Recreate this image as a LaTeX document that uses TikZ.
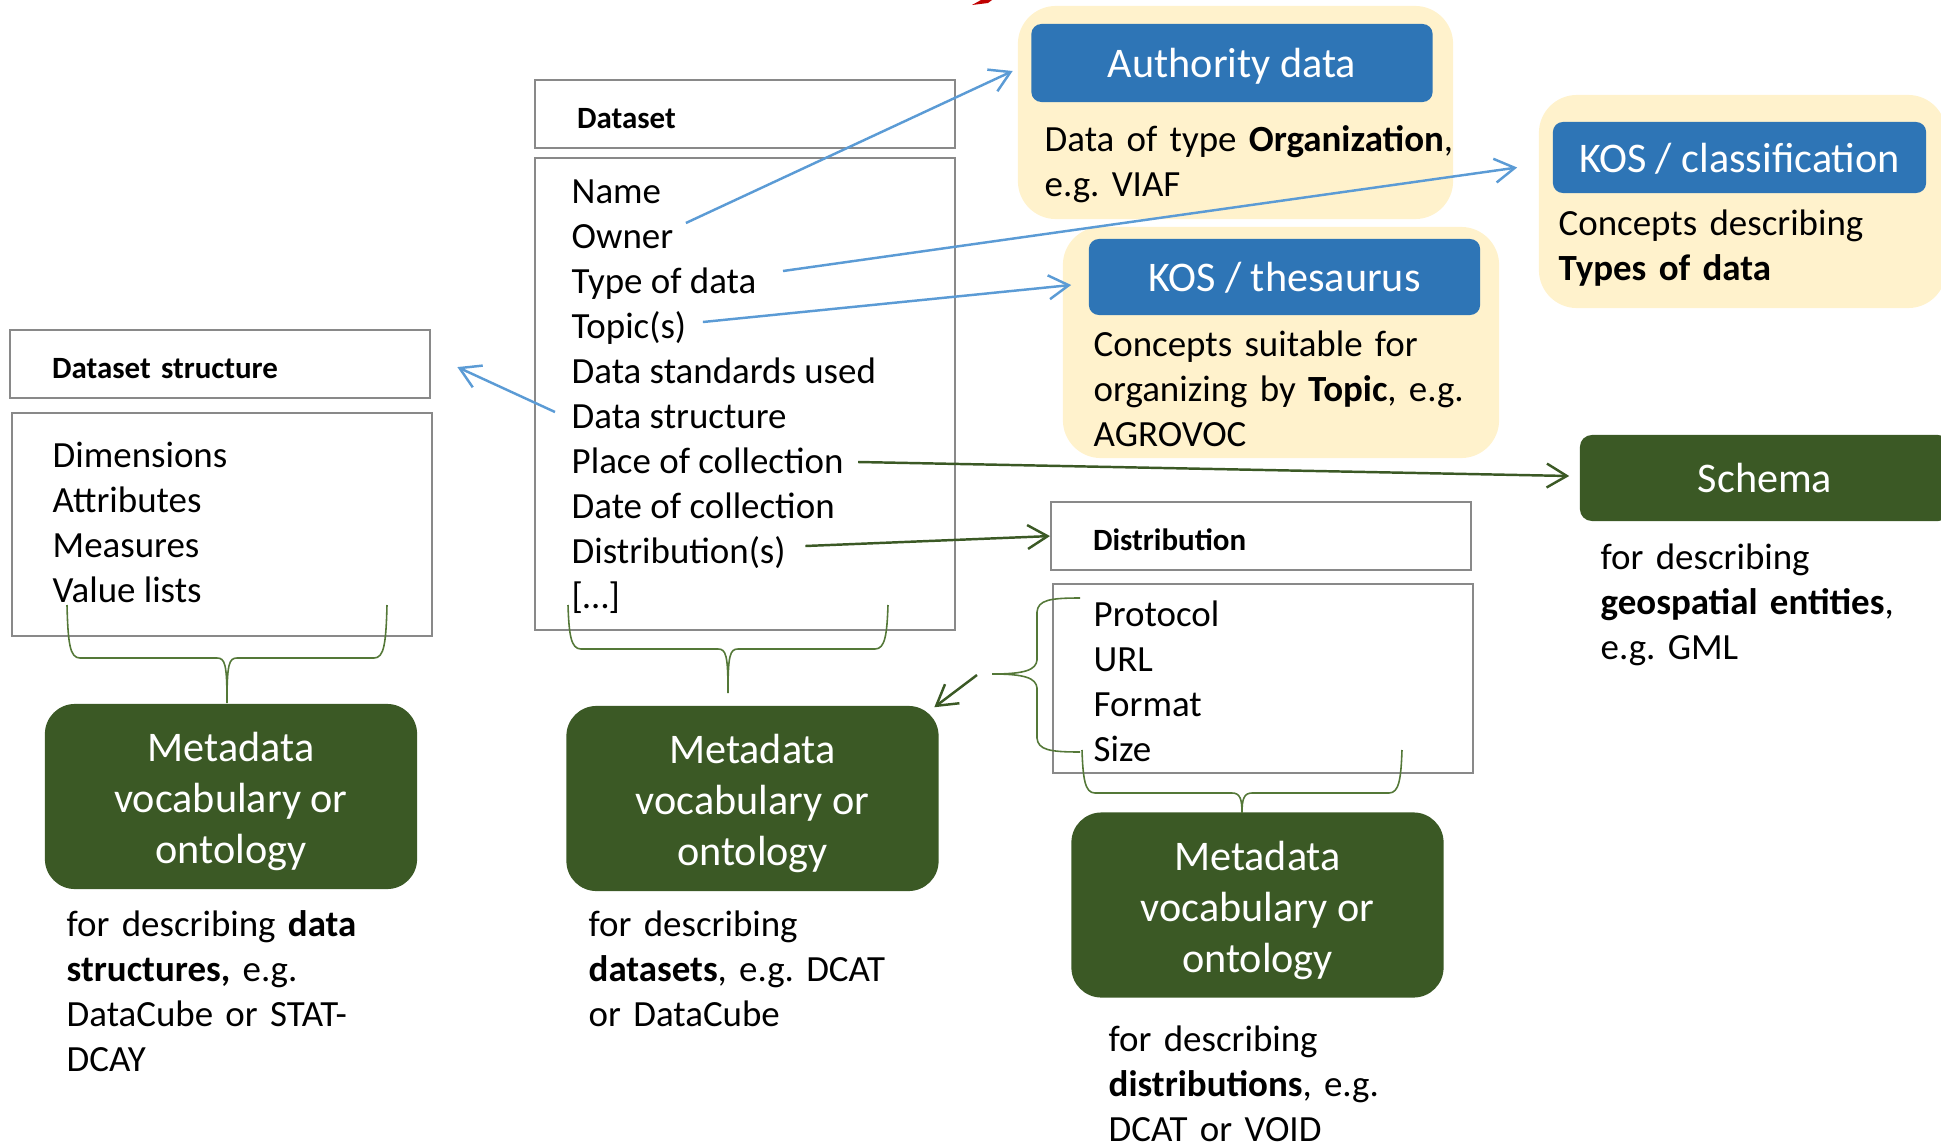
\documentclass[tikz,border=0pt]{standalone}
\usepackage{fontspec}
\setmainfont{Carlito}
\frenchspacing
\usetikzlibrary{positioning,arrows.meta,calc}
\definecolor{boxgray}{RGB}{137,137,137}
\definecolor{kosblue}{RGB}{46,117,182}
\definecolor{haloyellow}{RGB}{255,242,204}
\definecolor{vocabgreen}{RGB}{59,89,37}
\definecolor{bracegreen}{RGB}{84,120,56}
\definecolor{arrblue}{RGB}{91,155,213}
\definecolor{markred}{RGB}{192,0,0}
\newcommand{\itemfont}{\fontsize{10.5}{12.8}\selectfont}
\newcommand{\hdrfont}{\fontsize{8.8}{10.5}\selectfont\bfseries}
\newcommand{\bigfont}{\fontsize{12}{14.5}\selectfont}
\newcommand{\vocabtext}{\rule{0pt}{11.2pt}Metadata\\vocabulary or\\ontology}
% curly brace opening downwards: left x, right x, tip y, bar y, cusp y
\newcommand{\downbrace}[5]{%
  \draw[brc] (#1,#3) .. controls (#1+1,#4-14) and (#1+3,#4) .. (#1+13,#4)
    -- ({(#1+#2)/2-10},#4) .. controls ({(#1+#2)/2-2},#4) and ({(#1+#2)/2},#4+6) .. ({(#1+#2)/2},#5)
    .. controls ({(#1+#2)/2},#4+6) and ({(#1+#2)/2+2},#4) .. ({(#1+#2)/2+10},#4)
    -- (#2-13,#4) .. controls (#2-3,#4) and (#2-1,#4-14) .. (#2,#3);}
\tikzset{
  hdr/.style   = {rectangle, draw=boxgray, line width=0.6pt, anchor=north west,
                  minimum width=4.2cm, minimum height=0.68cm,
                  text width=3.36cm, inner xsep=0.42cm, align=left, font=\hdrfont,
                  text height=8pt, text depth=0pt},
  body/.style  = {rectangle, draw=boxgray, line width=0.6pt, anchor=north west,
                  minimum width=4.2cm, inner sep=0pt},
  item/.style  = {anchor=base west, inner sep=0pt, font=\itemfont},
  note/.style  = {item, text width=4.2cm, align=left},
  halo/.style  = {rectangle, rounded corners=0.38cm, fill=haloyellow, inner sep=0pt},
  kos/.style   = {rectangle, rounded corners=0.1cm, fill=kosblue, text=white,
                  font=\bigfont, inner sep=0pt, text height=9.5pt, text depth=1.2pt},
  vocab/.style = {rectangle, rounded corners=0.3cm, fill=vocabgreen, text=white,
                  font=\bigfont, align=center, minimum width=3.72cm, minimum height=1.85cm},
  barr/.style  = {-{Straight Barb[length=5.7pt,width=6.8pt]}, draw=arrblue, line width=0.7pt},
  garr/.style  = {-{Straight Barb[length=5.7pt,width=6.8pt]}, draw=vocabgreen, line width=0.7pt},
  brc/.style   = {draw=bracegreen, line width=0.45pt}
}
\begin{document}
\begin{tikzpicture}[x=0.01cm,y=-0.01cm]
  \useasboundingbox (0,0) rectangle (1941,1142);
  \fill[markred] (972,5) -- (981,0) -- (992,0) -- (988,3) -- cycle;

  % dataset class
  \node[hdr] (dsethdr) at (534,79) {Dataset};
  \node[body, minimum height=4.72cm] (dsetbody) at (534,157) {};
  \node[item] (name) at (571,203) {Name};
  \node[item] (owner) at (571,248) {Owner};
  \node[item] (type) at (571,293) {Type of data};
  \node[item] (topic) at (571,338) {Topic(s)};
  \node[item] (std) at (571,383) {Data standards used};
  \node[item] (struct) at (571,428) {Data structure};
  \node[item] (place) at (571,473) {Place of collection};
  \node[item] (date) at (571,518) {Date of collection};
  \node[item] (distr) at (571,563) {Distribution(s)};
  \node[item] (more) at (571,608) {[…]};

  % dataset structure class
  \node[hdr] (strhdr) at (9,329) {Dataset structure};
  \node[body, minimum height=2.23cm] (strbody) at (11,412) {};
  \node[item] (dims) at (52,467) {Dimensions};
  \node[item] (attrs) at (52,512) {Attributes};
  \node[item] (meas) at (52,557) {Measures};
  \node[item] (vals) at (52,602) {Value lists};

  % distribution class
  \node[hdr] (disthdr) at (1050,501) {Distribution};
  \node[body, minimum height=1.89cm] (distbody) at (1052,583) {};
  \node[item] (proto) at (1093,626) {Protocol};
  \node[item] (url) at (1093,671) {URL};
  \node[item] (fmt) at (1093,716) {Format};
  \node[item] (size) at (1093,761) {Size};

  % vocabularies
  \node[halo, minimum width=4.35cm, minimum height=2.13cm] (authbg) at (1235.5,112.5) {};
  \node[kos, minimum width=4.01cm, minimum height=0.78cm] (auth) at (1232,63) {Authority data};
  \node[note] (authtxt) at (1044,151) {Data of type \textbf{Organization},\\e.g. VIAF};

  \node[halo, minimum width=4.07cm, minimum height=2.13cm] (clsbg) at (1742.5,201.5) {};
  \node[kos, minimum width=3.73cm, minimum height=0.71cm] (cls) at (1739.5,157.5) {KOS / classification};
  \node[note] (clstxt) at (1558,235) {Concepts describing\\\textbf{Types of data}};

  \node[halo, minimum width=4.36cm, minimum height=2.31cm] (thesbg) at (1281,342.5) {};
  \node[kos, minimum width=3.91cm, minimum height=0.76cm] (thes) at (1284.5,277) {KOS / thesaurus};
  \node[note] (thestxt) at (1093,356) {Concepts suitable for\\organizing by \textbf{Topic}, e.g.\\AGROVOC};

  \node[kos, fill=vocabgreen, rounded corners=0.12cm, minimum width=3.7cm, minimum height=0.86cm] (schema) at (1765,478) {Schema};
  \node[note] (schematxt) at (1600,569) {for describing\\\textbf{geospatial entities},\\e.g. GML};

  \node[vocab] (voc1) at (231,796.5) {\vocabtext};
  \node[note] (voc1txt) at (66,936) {for describing \textbf{data}\\\textbf{structures,} e.g.\\DataCube or STAT-\\DCAY};
  \node[vocab] (voc2) at (752.5,798.5) {\vocabtext};
  \node[note] (voc2txt) at (588,936) {for describing\\\textbf{datasets}, e.g. DCAT\\or DataCube};
  \node[vocab] (voc3) at (1257.5,905) {\vocabtext};
  \node[note] (voc3txt) at (1108,1051) {for describing\\\textbf{distributions}, e.g.\\DCAT or VOID};

  % braces
  \downbrace{67}{387}{605}{658}{703}
  \downbrace{568}{888}{605}{649}{693}
  \downbrace{1082}{1402}{750}{793}{813}
  \coordinate (distbr) at (992,674);
  \draw[brc] (1080,598) .. controls (1050,598) and (1038,600) .. (1037,612) -- (1037,660)
    .. controls (1036,670) and (1025,674) .. (distbr)
    .. controls (1025,674) and (1036,678) .. (1037,688) -- (1037,738)
    .. controls (1038,750) and (1050,752) .. (1080,752);

  % links
  \draw[barr] ($(owner.base east)+(12,-25)$) -- ($(auth.west)+(-18,8)$);
  \draw[barr] ($(type.base east)+(26,-22)$) -- ($(cls.west)+(-35,10)$);
  \draw[barr] ($(topic.base east)+(16,-16)$) -- ($(thes.west)+(-17,8)$);
  \draw[barr] ($(struct.base west)+(-16,-16)$) -- ($(strhdr.east)+(26,3)$);
  \draw[garr] ($(place.base east)+(14,-11)$) -- ($(schema.west)+(-10,-2)$);
  \draw[garr] ($(distr.base east)+(19,-17)$) -- (disthdr.west);
  \draw[garr] ($(distbr)+(-15,1)$) -- ($(voc2.north east)+(-5,2)$);
\end{tikzpicture}
\end{document}
